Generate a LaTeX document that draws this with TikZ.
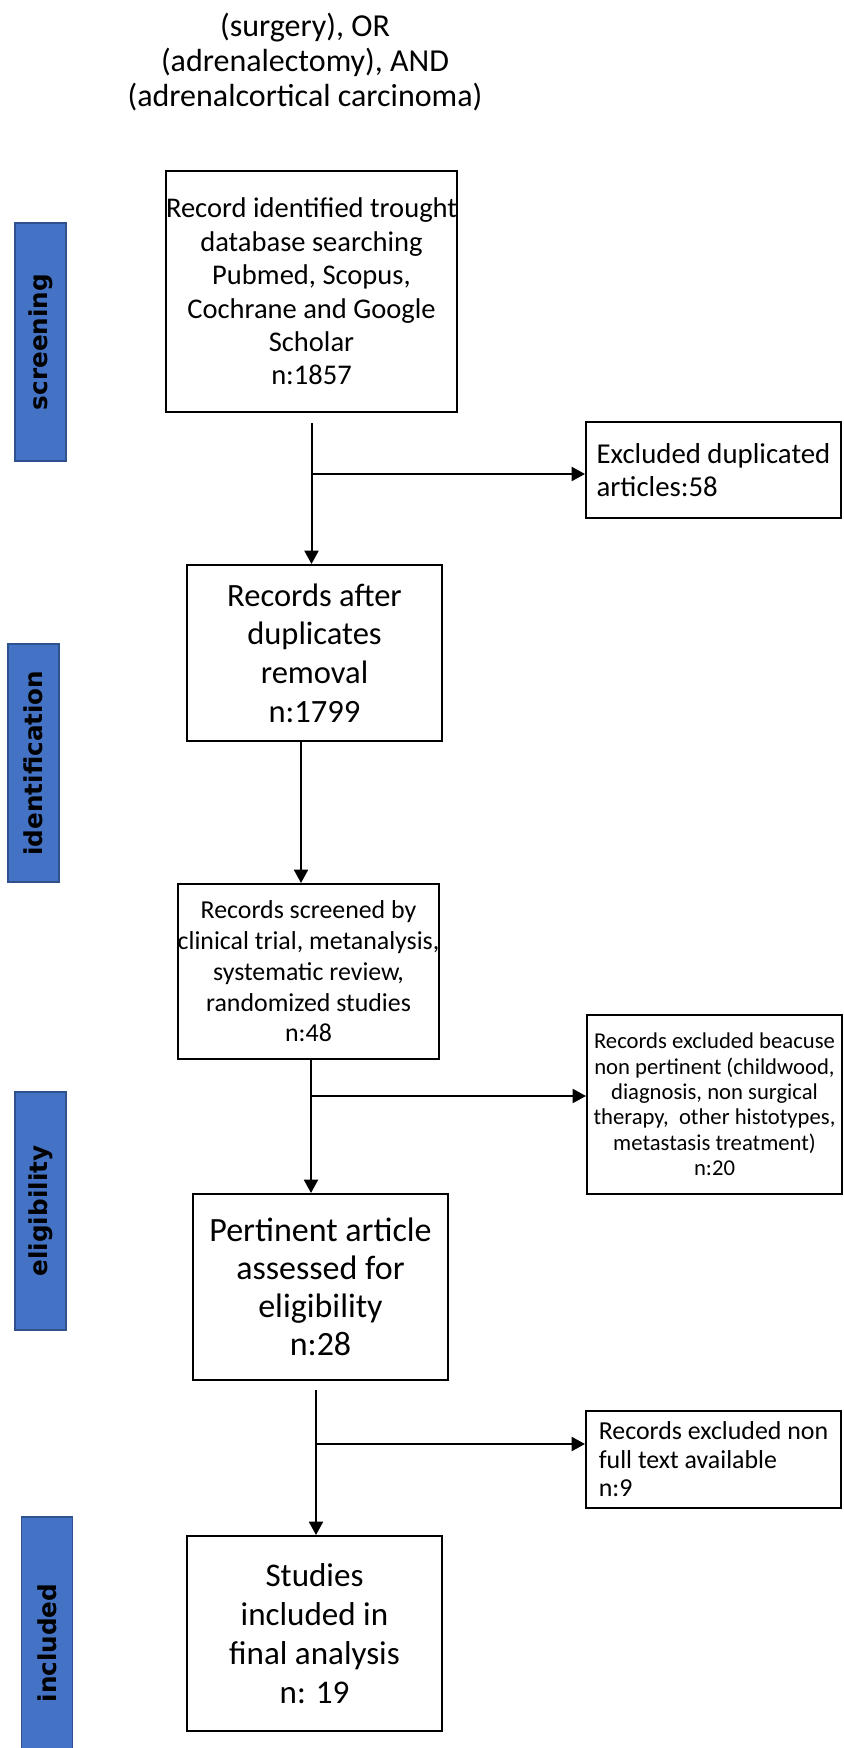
\documentclass[tikz,border=0pt]{standalone}
\usepackage{fontspec}
\setmainfont{Carlito}
\newfontfamily\phasefont{DejaVu Sans}
\usetikzlibrary{arrows.meta,calc,positioning}
\definecolor{phaseblue}{HTML}{4472C4}
\definecolor{phaseedge}{HTML}{2F528F}

\begin{document}
\begin{tikzpicture}[x=0.75pt, y=-0.75pt,
  box/.style={draw, line width=1.5pt, align=center, inner sep=0pt, minimum width=191.25pt},
  phase/.style={draw=phaseedge, line width=0.8pt, fill=phaseblue, rotate=90, inner sep=0pt,
    minimum width=178.5pt, minimum height=38.25pt, font=\phasefont\bfseries\fontsize{18.5}{21}\selectfont},
  arr/.style={line width=1.5pt, -{Triangle[length=10pt, width=10.5pt]}}]

\useasboundingbox (0,0) rectangle (843,1748);

% Query
\node[align=center, font=\fontsize{24}{26.5}\selectfont] (query) at (305,62)
  {(surgery), OR\\(adrenalectomy), AND\\(adrenalcortical carcinoma)};

% Fasi
\node[phase] (scrbar) at (40.5,342) {screening};
\node[phase] (idbar) at (33.5,763) {identification};
\node[phase] (elbar) at (40.5,1211) {eligibility};
\node[phase, minimum width=189pt] (inbar) at (47,1643) {included};

% Colonna centrale
\node[box, minimum width=216.75pt, minimum height=180.75pt, font=\fontsize{21.4}{25.1}\selectfont] (rec) at (311.5,291.5)
  {Record identified trought\\database searching\\Pubmed, Scopus,\\Cochrane and Google\\Scholar\\n:1857};
\node[box, minimum height=132pt, font=\fontsize{24.4}{29}\selectfont] (dup) at (314.5,653)
  {Records after\\duplicates\\removal\\n:1799};
\node[box, minimum width=194.25pt, minimum height=131.25pt, font=\fontsize{19.4}{23.1}\selectfont] (scr) at (308.5,971.5)
  {Records screened by\\clinical trial, metanalysis,\\systematic review,\\randomized studies\\n:48};
\node[box, minimum height=139.5pt, font=\fontsize{25.5}{28.5}\selectfont] (elig) at (320.5,1287)
  {Pertinent article\\assessed for\\eligibility\\n:28};
\node[box, minimum height=146.25pt, font=\fontsize{24.8}{29.25}\selectfont] (fin) at (314.5,1633.5)
  {Studies\\included in\\final analysis\\n: 19};

% Esclusi
\node[box, align=left, minimum height=72pt, font=\fontsize{21.6}{25.1}\selectfont] (exdup) at (713.5,470)
  {Excluded duplicated\\articles:58};
\node[box, minimum height=134.25pt, font=\fontsize{17}{19}\selectfont] (exnp) at (714.5,1104.5)
  {Records excluded beacuse\\non pertinent (childwood,\\diagnosis, non surgical\\therapy,\ \ other histotypes,\\metastasis treatment)\\n:20};
\node[box, align=left, minimum height=72.75pt, font=\fontsize{19.4}{21.4}\selectfont] (exft) at (713.5,1459.5)
  {Records excluded non\\full text available\\n:9};

% Frecce
\draw[arr] ([yshift=-7.5pt]rec.south) -- (rec.south |- dup.north);
\coordinate (br1) at (rec.south |- 0,474);
\draw[arr] (br1) -- (br1 -| exdup.west);

\draw[arr] (dup.south -| 301,0) -- (scr.north -| 301,0);

\draw[arr] (scr.south -| 311,0) -- (elig.north -| 311,0);
\coordinate (br2) at (311,1096);
\draw[arr] (br2) -- (br2 -| exnp.west);

\draw[arr] ([yshift=-6.75pt]elig.south -| 316,0) -- (fin.north -| 316,0);
\coordinate (br3) at (316,1444);
\draw[arr] (br3) -- (br3 -| exft.west);

\end{tikzpicture}
\end{document}
